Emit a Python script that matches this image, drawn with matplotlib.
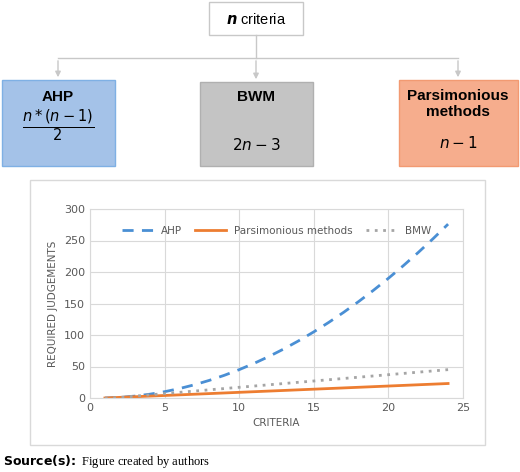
import matplotlib
matplotlib.use("Agg")
import matplotlib.pyplot as plt
from matplotlib.patches import Rectangle, FancyArrowPatch

criteria = list(range(1, 25))
ahp = [0, 1, 3, 6, 10, 15, 21, 28, 36, 45, 55, 66, 78, 91, 105, 120, 136, 153, 171, 190, 210, 231, 253, 276]
pars = [0, 1, 2, 3, 4, 5, 6, 7, 8, 9, 10, 11, 12, 13, 14, 15, 16, 17, 18, 19, 20, 21, 22, 23]
bmw = [-1, 1, 3, 5, 7, 9, 11, 13, 15, 17, 19, 21, 23, 25, 27, 29, 31, 33, 35, 37, 39, 41, 43, 45]

W, H = 520, 472
fig = plt.figure(figsize=(5.2, 4.72), dpi=100)
bg = fig.add_axes([0, 0, 1, 1])
bg.set_xlim(0, W); bg.set_ylim(H, 0); bg.axis("off")

def box(x0, y0, x1, y1, fc, ec):
    bg.add_patch(Rectangle((x0, y0), x1 - x0, y1 - y0, fc=fc, ec=ec, lw=1))

box(209, 2, 303, 35, "white", "#c8c8c8")
bg.text(256, 19, r"$\boldsymbol{n}$ criteria", ha="center", va="center", fontsize=10.5, family="Liberation Sans")
bg.plot([256, 256], [35, 58], color="#c8c8c8", lw=1)
bg.plot([58, 458], [58, 58], color="#c8c8c8", lw=1)
for x, yb in [(58, 80), (256, 82), (458, 80)]:
    bg.add_patch(FancyArrowPatch((x, 58), (x, yb), arrowstyle="-|>", mutation_scale=8, color="#c8c8c8", lw=1))

box(2, 80, 115, 166, "#a4c2e8", "#7fb0e4")
box(200, 82, 313, 166, "#c4c4c4", "#b0b0b0")
box(399, 80, 518, 166, "#f6ad8d", "#f29a72")
bg.text(58, 97, "AHP", ha="center", va="center", fontsize=11, weight="bold", family="Liberation Sans")
bg.text(58, 126, r"$\frac{n*(n-1)}{2}$", ha="center", va="center", fontsize=15, family="DejaVu Serif")
bg.text(256, 97, "BWM", ha="center", va="center", fontsize=11, weight="bold", family="Liberation Sans")
bg.text(256, 145, r"$2n-3$", ha="center", va="center", fontsize=11)
bg.text(458, 104, "Parsimonious\nmethods", ha="center", va="center", fontsize=11, weight="bold", family="Liberation Sans", linespacing=1.15)
bg.text(458, 143, r"$n-1$", ha="center", va="center", fontsize=11)

box(30, 180, 485, 445, "white", "#d9d9d9")
bg.text(3, 462, r"$\bf{Source(s)\!:}$ Figure created by authors", ha="left", va="center", fontsize=9, family="Liberation Serif")

ax = fig.add_axes([90 / W, (H - 398) / H, 373 / W, 189 / H])
ax.plot(criteria, ahp, color="#4a8fd4", lw=2, ls=(0, (4, 3)), label="AHP")
ax.plot(criteria, pars, color="#ed7d31", lw=2, label="Parsimonious methods")
ax.plot(criteria, bmw, color="#a5a5a5", lw=2, ls=(0, (1, 2)), label="BMW")
ax.set_xlim(0, 25); ax.set_ylim(0, 300)
ax.set_xticks(range(0, 26, 5)); ax.set_yticks(range(0, 301, 50))
ax.grid(True, color="#d9d9d9", lw=0.8)
for s in ax.spines.values():
    s.set_color("#d9d9d9")
ax.tick_params(length=0, labelsize=8, colors="#595959")
ax.set_xlabel("CRITERIA", fontsize=7.5, color="#595959")
ax.set_ylabel("REQUIRED JUDGEMENTS", fontsize=7.5, color="#595959")
ax.legend(loc="upper center", ncol=3, frameon=False, fontsize=7.5, bbox_to_anchor=(0.5, 0.96),
          handlelength=3, columnspacing=1.2, labelcolor="#595959")
fig.savefig("out.png", dpi=100)
